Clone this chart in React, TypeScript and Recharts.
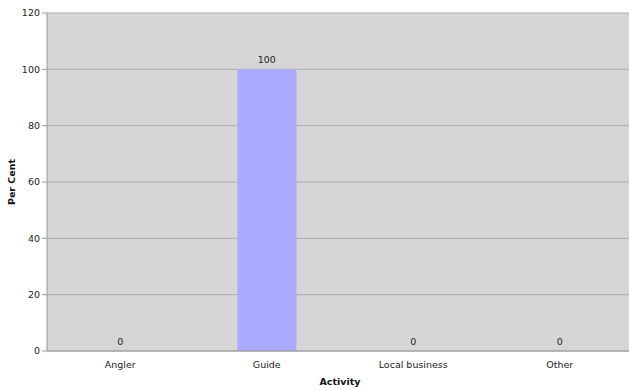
import { ComposedChart, Bar, Line, XAxis, YAxis, CartesianGrid, LabelList } from "recharts";

const activities = ["Angler", "Guide", "Local business", "Other"];
const perCent = [0, 100, 0, 0];
const yTicks = [0, 20, 40, 60, 80, 100, 120];

const data = activities.map((a, i) => ({ activity: a, value: perCent[i] }));

const font = "'DejaVu Sans', Verdana, sans-serif";

export default function App() {
  return (
    <div style={{ position: "absolute", left: 0, top: 0, width: 629, height: 390, overflow: "hidden", background: "#fff", fontFamily: font }}>
      <ComposedChart width={633} height={390} data={data} margin={{ top: 13, right: 0, left: 0, bottom: 0 }} barCategoryGap="30%">
        <CartesianGrid vertical={false} stroke="#aaaaaa" fill="#d6d6d6" />
        <XAxis
          dataKey="activity"
          height={39}
          stroke="#9a9a9a"
          tickLine={false}
          tick={{ fill: "#222", fontSize: 9.5, fontFamily: font }}
          dy={2}
          label={{ value: "Activity", position: "insideBottom", offset: 5, fill: "#111", fontSize: 9.5, fontWeight: "bold", fontFamily: font }}
        />
        <YAxis
          domain={[0, 120]}
          ticks={yTicks}
          width={47}
          stroke="#9a9a9a"
          tickSize={5}
          interval={0}
          tick={{ fill: "#222", fontSize: 9.5, fontFamily: font }}
          label={{ value: "Per Cent", angle: -90, position: "insideLeft", offset: 12, fill: "#111", fontSize: 9.5, fontWeight: "bold", fontFamily: font, style: { textAnchor: "middle" } }}
        />
        <Bar dataKey="value" fill="#aaaaff" isAnimationActive={false} />
        <Line dataKey="value" stroke="none" dot={false} activeDot={false} isAnimationActive={false}>
          <LabelList dataKey="value" position="top" offset={6} fill="#222" fontSize={9.5} fontFamily={font} />
        </Line>
      </ComposedChart>
    </div>
  );
}
